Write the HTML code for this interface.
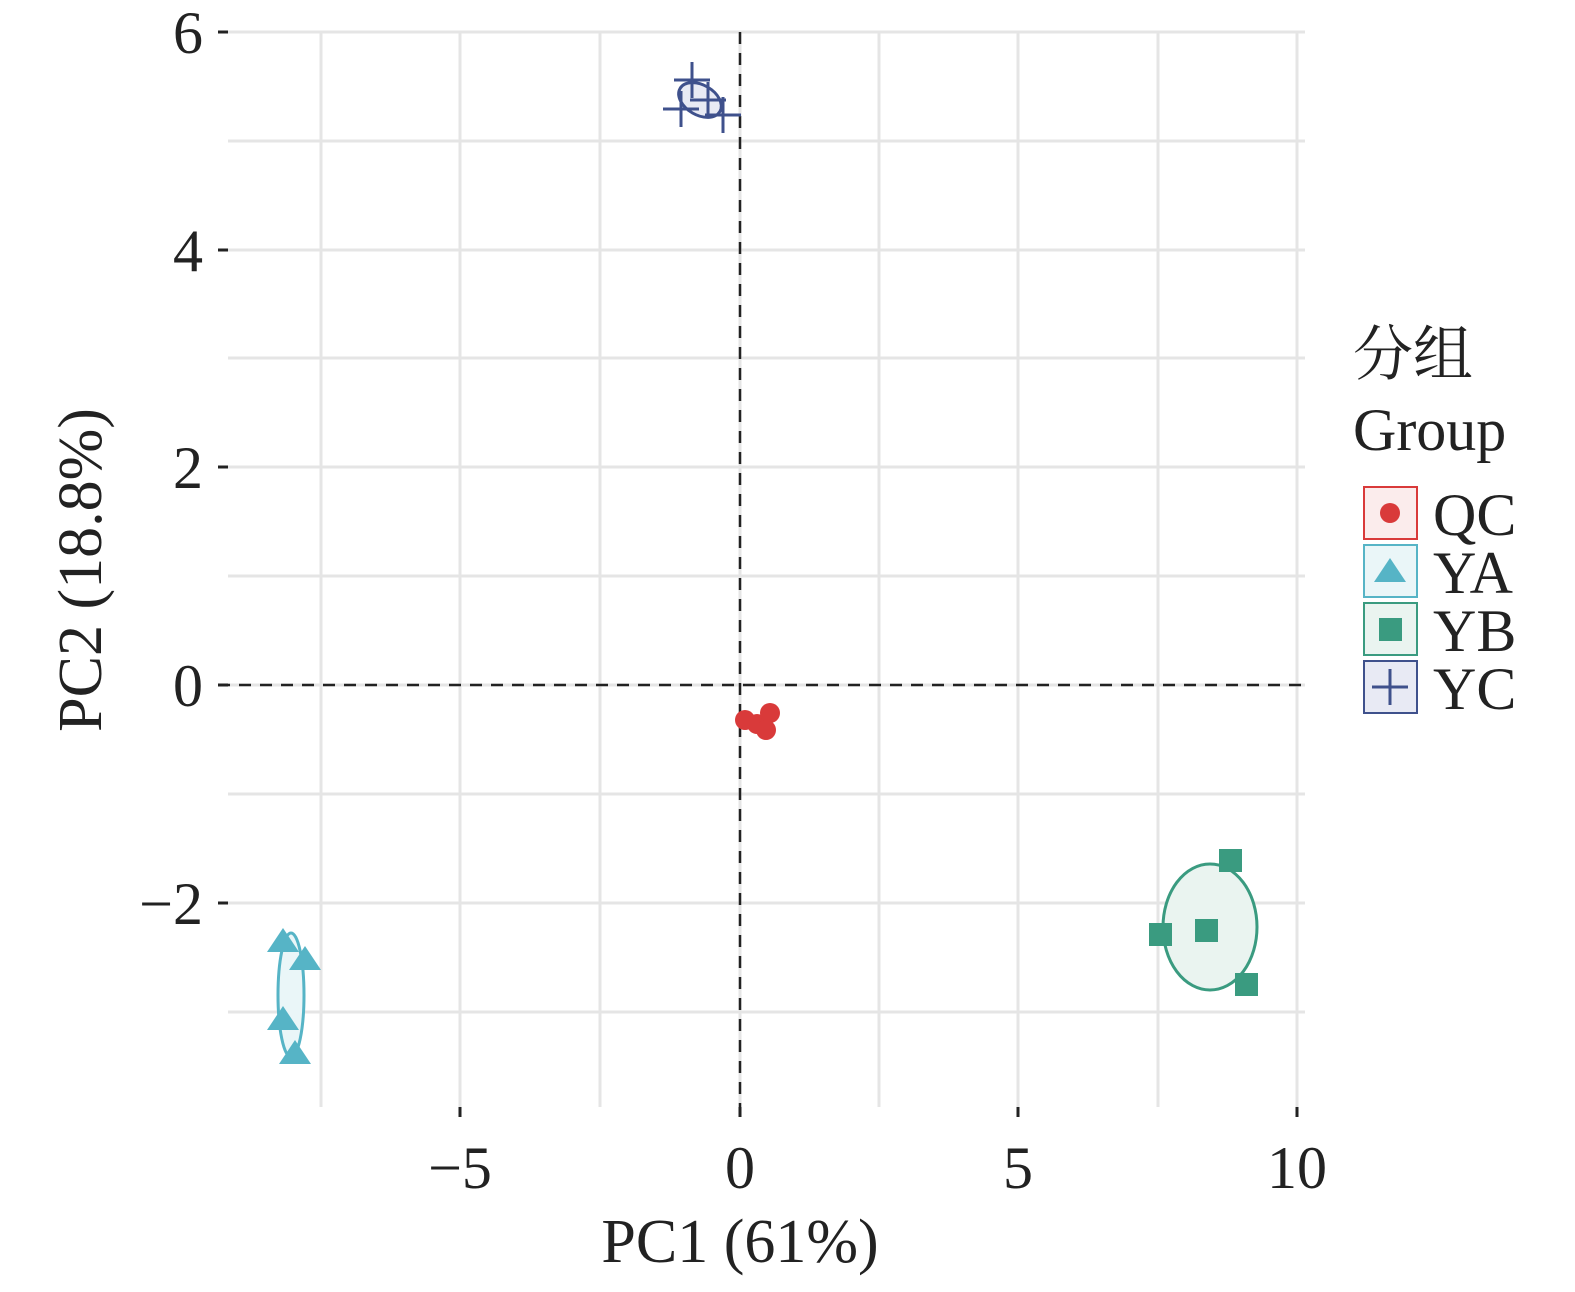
<!DOCTYPE html>
<html><head><meta charset="utf-8"><style>body{margin:0;background:#fff}</style></head><body>
<svg width="1575" height="1287" xmlns="http://www.w3.org/2000/svg" font-family="Liberation Serif, 'Noto Serif CJK SC', serif">
<rect width="1575" height="1287" fill="#fff"/>
<g stroke="#e5e5e5" stroke-width="3">
<line x1="228" y1="32" x2="1305" y2="32"/><line x1="228" y1="141" x2="1305" y2="141"/><line x1="228" y1="250" x2="1305" y2="250"/><line x1="228" y1="358" x2="1305" y2="358"/><line x1="228" y1="467" x2="1305" y2="467"/><line x1="228" y1="576" x2="1305" y2="576"/><line x1="228" y1="685" x2="1305" y2="685"/><line x1="228" y1="794" x2="1305" y2="794"/><line x1="228" y1="903" x2="1305" y2="903"/><line x1="228" y1="1012" x2="1305" y2="1012"/>
<line x1="321" y1="32" x2="321" y2="1107"/><line x1="460" y1="32" x2="460" y2="1107"/><line x1="600" y1="32" x2="600" y2="1107"/><line x1="740" y1="32" x2="740" y2="1107"/><line x1="879" y1="32" x2="879" y2="1107"/><line x1="1018" y1="32" x2="1018" y2="1107"/><line x1="1158" y1="32" x2="1158" y2="1107"/><line x1="1297" y1="32" x2="1297" y2="1107"/>
</g>
<g stroke="#222" stroke-width="2.5" stroke-dasharray="12,9">
<line x1="218" y1="685" x2="1305" y2="685"/><line x1="740" y1="32" x2="740" y2="1117"/>
</g>
<g stroke="#222" stroke-width="3">
<line x1="218" y1="32" x2="228" y2="32"/><line x1="218" y1="250" x2="228" y2="250"/><line x1="218" y1="467" x2="228" y2="467"/><line x1="218" y1="685" x2="228" y2="685"/><line x1="218" y1="903" x2="228" y2="903"/>
<line x1="460" y1="1107" x2="460" y2="1117"/><line x1="740" y1="1107" x2="740" y2="1117"/><line x1="1018" y1="1107" x2="1018" y2="1117"/><line x1="1297" y1="1107" x2="1297" y2="1117"/>
</g>
<g font-size="60" fill="#222" text-anchor="end">
<text x="203" y="53">6</text><text x="203" y="271">4</text><text x="203" y="488">2</text><text x="203" y="706">0</text><text x="203" y="924">−2</text>
</g>
<g font-size="60" fill="#222" text-anchor="middle">
<text x="460" y="1188">−5</text><text x="740" y="1188">0</text><text x="1018" y="1188">5</text><text x="1297" y="1188">10</text>
<text x="740" y="1262" font-size="62">PC1 (61%)</text>
<text transform="translate(101,570) rotate(-90)" font-size="62">PC2 (18.8%)</text>
</g>
<ellipse cx="700" cy="100" rx="23" ry="15" transform="rotate(30 700 100)" fill="#e8eaf4" stroke="#3f518c" stroke-width="3"/>
<g stroke="#3f518c" stroke-width="3">
<path d="M692 62V98M674 80H710"/><path d="M708 82V118M690 100H726"/><path d="M681 91V127M663 109H699"/><path d="M723 97V133M705 115H741"/>
</g>
<ellipse cx="291" cy="995" rx="13" ry="62" fill="#eaf6f8" stroke="#56b4c6" stroke-width="3"/>
<g fill="#56b4c6">
<path d="M283 928L267 952H299Z"/><path d="M305 946L289 970H321Z"/><path d="M283 1006L267 1030H299Z"/><path d="M295 1040L279 1064H311Z"/>
</g>
<ellipse cx="1210" cy="927" rx="47" ry="63" fill="#eaf4f0" stroke="#3a9b80" stroke-width="3"/>
<g fill="#3a9b80">
<rect x="1219" y="849" width="23" height="23"/><rect x="1195" y="919" width="23" height="23"/><rect x="1149" y="923" width="23" height="23"/><rect x="1235" y="973" width="23" height="23"/>
</g>
<g fill="#d93a3a">
<circle cx="745" cy="720" r="10"/><circle cx="757" cy="724" r="10"/><circle cx="770" cy="713" r="10"/><circle cx="766" cy="730" r="10"/>
</g>
<g font-size="60" fill="#222">
<text x="1353" y="375" font-family="'Noto Serif CJK SC',serif">分组</text>
<text x="1353" y="450">Group</text>
<text x="1433" y="535">QC</text><text x="1433" y="593">YA</text><text x="1433" y="651">YB</text><text x="1433" y="709">YC</text>
</g>
<rect x="1364" y="487" width="53" height="52" fill="#fbecec" stroke="#d93a3a" stroke-width="2"/>
<circle cx="1390" cy="513" r="10" fill="#d93a3a"/>
<rect x="1364" y="545" width="53" height="52" fill="#eaf6f8" stroke="#56b4c6" stroke-width="2"/>
<path d="M1390 558L1374 582H1406Z" fill="#56b4c6"/>
<rect x="1364" y="603" width="53" height="52" fill="#eaf4f0" stroke="#3a9b80" stroke-width="2"/>
<rect x="1379" y="618" width="23" height="23" fill="#3a9b80"/>
<rect x="1364" y="661" width="53" height="52" fill="#e8eaf4" stroke="#3f518c" stroke-width="2"/>
<path d="M1390 669V705M1372 687H1408" stroke="#3f518c" stroke-width="3"/>
</svg>
</body></html>
